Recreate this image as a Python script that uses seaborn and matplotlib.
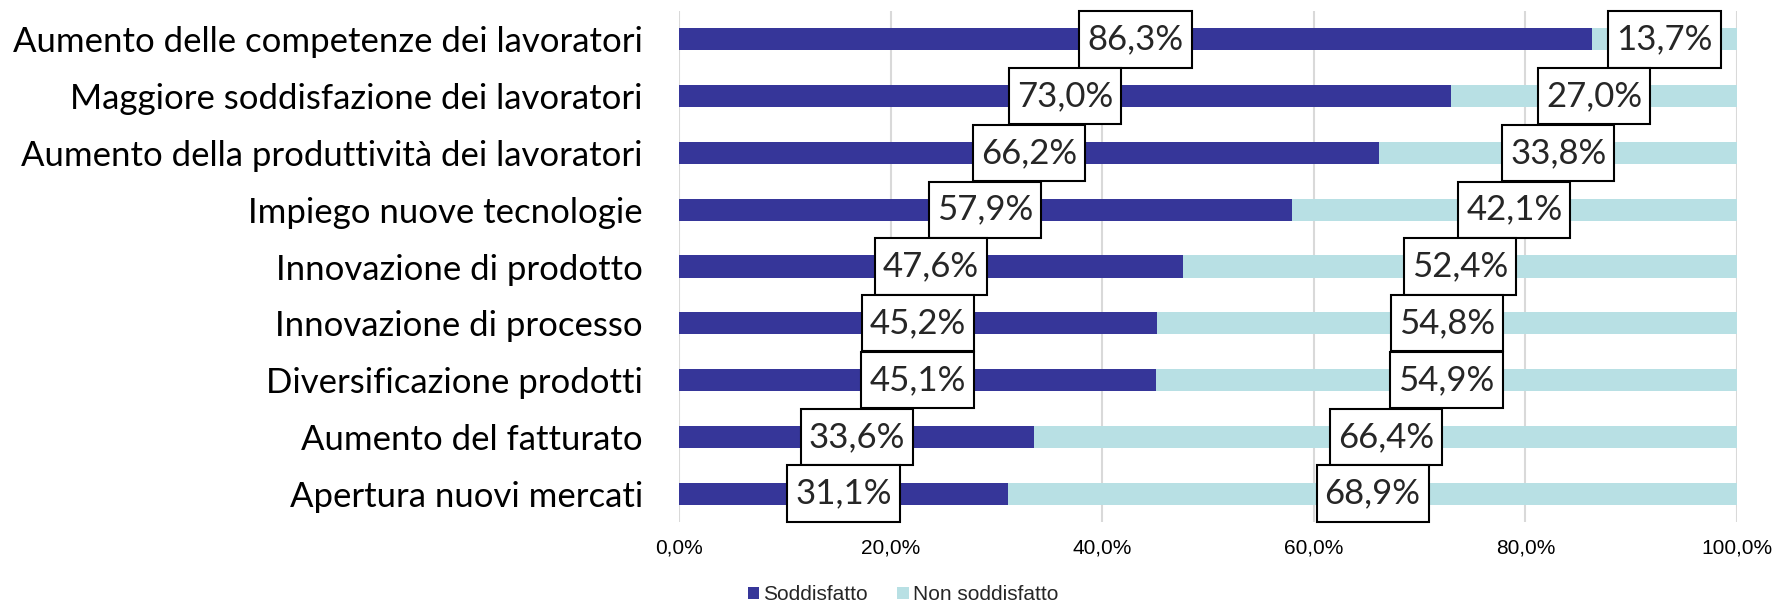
import matplotlib
matplotlib.use("Agg")
import matplotlib.pyplot as plt
import seaborn as sns
import pandas as pd
from matplotlib.patches import Patch
from matplotlib.path import Path

categories = [
    "Aumento delle competenze dei lavoratori",
    "Maggiore soddisfazione dei lavoratori",
    "Aumento della produttività dei lavoratori",
    "Impiego nuove tecnologie",
    "Innovazione di prodotto",
    "Innovazione di processo",
    "Diversificazione prodotti",
    "Aumento del fatturato",
    "Apertura nuovi mercati",
]
soddisfatto = [86.3, 73.0, 66.2, 57.9, 47.6, 45.2, 45.1, 33.6, 31.1]
non_soddisfatto = [13.7, 27.0, 33.8, 42.1, 52.4, 54.8, 54.9, 66.4, 68.9]
x_ticks = [0, 20, 40, 60, 80, 100]
x_tick_labels = ["0,0%", "20,0%", "40,0%", "60,0%", "80,0%", "100,0%"]
series_names = ["Soddisfatto", "Non soddisfatto"]

DARK = "#363699"
LIGHT = "#B8E0E4"

sns.set_style("white")
plt.rcParams["font.family"] = ["Liberation Sans", "DejaVu Sans"]

df = pd.DataFrame({
    "cat": categories,
    "sodd": soddisfatto,
    "non": non_soddisfatto,
})
df["total"] = df["sodd"] + df["non"]

fig = plt.figure(figsize=(17.75, 6.04), dpi=100)
ax = fig.add_axes([679 / 1775, 1 - 522 / 604, (1737 - 679) / 1775, (522 - 11) / 604])

sns.barplot(data=df, y="cat", x="total", color=LIGHT, width=0.39, ax=ax,
            orient="h", saturation=1, linewidth=0, errorbar=None)
sns.barplot(data=df, y="cat", x="sodd", color=DARK, width=0.39, ax=ax,
            orient="h", saturation=1, linewidth=0, errorbar=None)

ax.set_xlim(0, 100)
ax.set_ylim(len(categories) - 0.5, -0.5)
ax.set_xticks(x_ticks)
ax.set_xticklabels(x_tick_labels, fontsize=15, color="#000000")
ax.set_yticks(range(len(categories)))
ax.set_yticklabels(categories, fontsize=25, family=["Lato", "DejaVu Sans"], color="#000000")
ax.tick_params(axis="y", length=0, pad=26)
ax.tick_params(axis="x", length=0, pad=12)
ax.set_xlabel("")
ax.set_ylabel("")
for s in ax.spines.values():
    s.set_visible(False)
ax.xaxis.grid(True, color="#D9D9D9", linewidth=1.5)
ax.yaxis.grid(False)
ax.set_axisbelow(True)


def rect_box(x0, y0, width, height, mutation_size):
    px = 0.23 * mutation_size
    py = 0.35 * mutation_size
    x0, y0 = x0 - px, y0 - py
    x1, y1 = x0 + width + 2 * px, y0 + height + 2 * py
    return Path([(x0, y0), (x1, y0), (x1, y1), (x0, y1), (x0, y0)],
                [Path.MOVETO, Path.LINETO, Path.LINETO, Path.LINETO, Path.CLOSEPOLY])


def fmt(v):
    return f"{v:.1f}".replace(".", ",") + "%"

box = dict(boxstyle=rect_box, facecolor="white", edgecolor="black", linewidth=1.5)
for i, (s, n) in enumerate(zip(soddisfatto, non_soddisfatto)):
    ax.text(s / 2, i, fmt(s), ha="center", va="center", fontsize=25,
            family=["Lato", "DejaVu Sans"], bbox=box, zorder=5)
    ax.text(s + n / 2, i, fmt(n), ha="center", va="center", fontsize=25,
            family=["Lato", "DejaVu Sans"], bbox=box, zorder=5)

handles = [Patch(facecolor=DARK, edgecolor="none"), Patch(facecolor=LIGHT, edgecolor="none")]
fig.legend(handles, series_names, loc="center", bbox_to_anchor=(903 / 1775, 1 - 595 / 604),
           ncol=2, frameon=False, fontsize=15, handlelength=0.55, handleheight=0.55,
           handletextpad=0.2, columnspacing=1.4, borderaxespad=0, borderpad=0)

fig.savefig("out.png", dpi=100)
